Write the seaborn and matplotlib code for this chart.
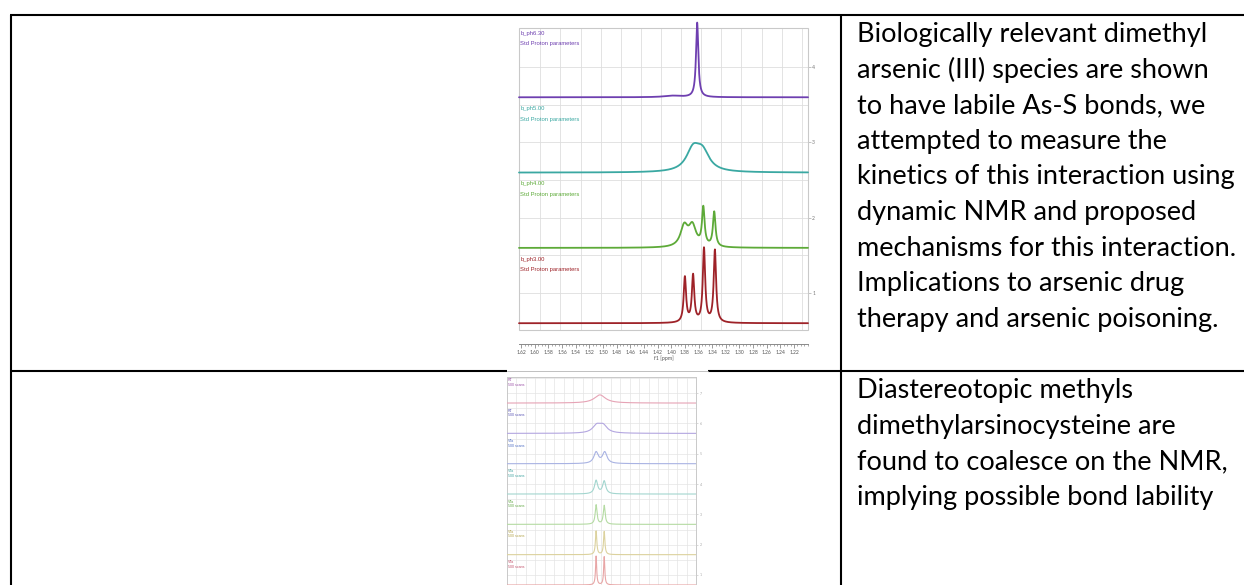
import numpy as np
import pandas as pd
import matplotlib
matplotlib.use("Agg")
import matplotlib.pyplot as plt
import matplotlib.transforms as mtransforms
from matplotlib.patches import Rectangle
from matplotlib.lines import Line2D
from matplotlib.ticker import MultipleLocator, FixedLocator, NullFormatter
import seaborn as sns

W, H = 1244, 585

# ---------------- data ----------------
text_row1 = ["Biologically relevant dimethyl",
             "arsenic (III) species are shown",
             "to have labile As-S bonds, we",
             "attempted to measure the",
             "kinetics of this interaction using",
             "dynamic NMR and proposed",
             "mechanisms for this interaction.",
             "Implications to arsenic drug",
             "therapy and arsenic poisoning."]
text_row2 = ["Diastereotopic methyls",
             "dimethylarsinocysteine are",
             "found to coalesce on the NMR,",
             "implying possible bond lability"]

# top spectrum stack (pH series)
ph_names = ["b_ph6.30", "b_ph5.00", "b_ph4.00", "b_ph3.00"]
ph_sub = "Std Proton parameters"
ph_colors = ["#6E3FB0", "#3AA8A2", "#5DAA38", "#9E2228"]
ph_offsets = [3.6, 2.6, 1.6, 0.6]
ph_centers = [[1.362, 1.398], [1.368, 1.354], [1.381, 1.369, 1.353, 1.337], [1.380, 1.368, 1.352, 1.336]]
ph_heights = [[0.99, 0.02], [0.28, 0.24], [0.27, 0.27, 0.50, 0.46], [0.60, 0.62, 0.98, 0.96]]
ph_widths = [[0.004, 0.03], [0.024, 0.024], [0.013, 0.013, 0.0045, 0.0045], [0.0042, 0.0042, 0.0042, 0.0042]]
ph_ticks = [1, 2, 3, 4]
ppm_ticks = [1.62, 1.60, 1.58, 1.56, 1.54, 1.52, 1.50, 1.48, 1.46, 1.44, 1.42,
             1.40, 1.38, 1.36, 1.34, 1.32, 1.30, 1.28, 1.26, 1.24, 1.22]

# bottom spectrum stack (variable temperature series)
vt_names = ["RT", "RT", "VTa", "VTa", "VTa", "VTa", "VTa"]
vt_sub = "500 scans"
vt_line_colors = ["#E6A3B5", "#B3A6E0", "#A9B3E3", "#A3D6CF", "#B5DBA3", "#DCD29E", "#E8A6A6"]
vt_text_colors = ["#9A4FA6", "#5A55B5", "#4C6CC4", "#3FA3A0", "#62A844", "#B3A44A", "#C2506A"]
vt_offsets = [6.67, 5.67, 4.67, 3.67, 2.67, 1.67, 0.67]
vt_centers = [[1.356], [1.368, 1.344], [1.370, 1.338], [1.370, 1.340], [1.370, 1.340], [1.370, 1.340], [1.370, 1.340]]
vt_heights = [[0.27], [0.24, 0.24], [0.37, 0.37], [0.44, 0.42], [0.64, 0.62], [0.78, 0.76], [0.95, 0.93]]
vt_widths = [[0.05], [0.036, 0.036], [0.02, 0.02], [0.014, 0.014], [0.008, 0.008], [0.006, 0.006], [0.005, 0.005]]
vt_ticks = [1, 2, 3, 4, 5, 6, 7]


def lorentz_stack(xs, names, offsets, centers, heights, widths):
    frames = []
    for i, (nm, off, cs, hs, ws) in enumerate(zip(names, offsets, centers, heights, widths)):
        y = np.full_like(xs, off)
        for c, h, w in zip(cs, hs, ws):
            y = y + h / (1.0 + ((xs - c) / (w / 2.0)) ** 2)
        frames.append(pd.DataFrame({"ppm": xs, "intensity": y, "trace": f"{i}_{nm}"}))
    return pd.concat(frames, ignore_index=True)


# ---------------- figure ----------------
sns.set_theme(style="white")
plt.rcParams['font.family'] = ['Lato', 'DejaVu Sans']
fig = plt.figure(figsize=(W / 100, H / 100), dpi=100)
fig.patch.set_facecolor("white")


def fx(x):
    return x / W


def fy(y):
    return 1 - y / H


def add_ax(x0, y0, x1, y1):
    return fig.add_axes([fx(x0), fy(y1), fx(x1) - fx(x0), (y1 - y0) / H])


# ---- table lines ----
lw_tab = 1.5
for (xa, ya, xb, yb) in [(10, 15, 1244, 15), (11, 15, 11, 585), (841, 15, 841, 585),
                         (11, 371, 507, 371), (708, 371, 1244, 371)]:
    fig.add_artist(Line2D([fx(xa), fx(xb)], [fy(ya), fy(yb)], color="black", lw=lw_tab,
                          solid_capstyle="butt"))
fig.add_artist(Line2D([fx(507), fx(708)], [fy(371), fy(371)], color="#b5b5b5", lw=0.6))

# ---- text in right column ----
tmp = fig.text(0, 0, "kinetics of this interaction using", fontsize=20)
fig.canvas.draw()
bb = tmp.get_window_extent(fig.canvas.get_renderer())
fs = 20 * 379.0 / bb.width
tmp.remove()

for i, s in enumerate(text_row1):
    fig.text(fx(857), fy(42 + i * 35.6), s, fontsize=fs, color="black", va="baseline", ha="left")
for i, s in enumerate(text_row2):
    fig.text(fx(857), fy(398 + i * 35.6), s, fontsize=fs, color="black", va="baseline", ha="left")

grid_c = "#dedede"
frame_c = "#c9c9c9"

# ---- top spectrum ----
ax1 = add_ax(519, 28, 808, 330)
xs1 = np.linspace(1.6232, 1.1995, 2500)
df1 = lorentz_stack(xs1, ph_names, ph_offsets, ph_centers, ph_heights, ph_widths)
pal1 = {f"{i}_{n}": c for i, (n, c) in enumerate(zip(ph_names, ph_colors))}
sns.lineplot(data=df1, x="ppm", y="intensity", hue="trace", palette=pal1, estimator=None,
             sort=False, legend=False, lw=1.3, ax=ax1, zorder=3)
for ln in ax1.lines:
    ln.set_clip_on(False)
ax1.set_xlim(1.6232, 1.1995)
ax1.set_ylim(0.51, 4.52)
for s in ["top", "left", "right"]:
    ax1.spines[s].set_visible(False)
ax1.add_patch(Rectangle((0, 0), 1, 1, transform=ax1.transAxes, fill=False, ec=frame_c, lw=0.8,
                        clip_on=False, zorder=1))
ax1.spines["bottom"].set_position(("outward", 10))
ax1.spines["bottom"].set_color("#8a8a8a")
ax1.spines["bottom"].set_linewidth(0.7)
ax1.xaxis.set_major_locator(FixedLocator(ppm_ticks))
ax1.set_xticklabels([f"{t:.2f}" for t in ppm_ticks])
ax1.xaxis.set_minor_locator(MultipleLocator(0.005))
ax1.tick_params(axis="x", which="major", bottom=True, length=3, width=0.6, color="#8a8a8a",
                labelsize=3.6, labelcolor="#555555", pad=1.5)
ax1.tick_params(axis="x", which="minor", bottom=True, length=1.6, width=0.5, color="#8a8a8a")
ax1.set_xlabel("f1 [ppm]", fontsize=3.8, color="#555555", labelpad=0)
ax1.yaxis.tick_right()
ax1.yaxis.set_major_locator(FixedLocator(ph_ticks))
ax1.yaxis.set_minor_locator(FixedLocator([1.5, 2.5, 3.5]))
ax1.yaxis.set_minor_formatter(NullFormatter())
ax1.tick_params(axis="y", which="major", right=True, length=2, width=0.5, color="#aaaaaa",
                labelsize=3.6, labelcolor="#777777", pad=1)
ax1.tick_params(axis="y", which="minor", right=False, length=0)
ax1.set_ylabel("")
ax1.grid(axis="y", which="both", color=grid_c, lw=0.6, zorder=0)
ax1.vlines(np.arange(1.592, 1.20, -0.0295), 0, 1, transform=ax1.get_xaxis_transform(),
           color=grid_c, lw=0.6, zorder=0)
tr1 = mtransforms.blended_transform_factory(ax1.transAxes, ax1.transData)
for k, nm, c in zip([4, 3, 2, 1], ph_names, ph_colors):
    ax1.text(0.004, k + 0.45, nm, transform=tr1, fontsize=4.2, color=c, va="center",
             family=["Liberation Sans", "DejaVu Sans"])
    ax1.text(0.004, k + 0.31, ph_sub, transform=tr1, fontsize=4.2, color=c, va="center",
             family=["Liberation Sans", "DejaVu Sans"])

# ---- bottom spectrum ----
ax2 = add_ax(507, 377, 696, 620)
xs2 = np.linspace(1.70, 1.00, 1800)
df2 = lorentz_stack(xs2, vt_names, vt_offsets, vt_centers, vt_heights, vt_widths)
pal2 = {f"{i}_{n}": c for i, (n, c) in enumerate(zip(vt_names, vt_line_colors))}
sns.lineplot(data=df2, x="ppm", y="intensity", hue="trace", palette=pal2, estimator=None,
             sort=False, legend=False, lw=0.8, ax=ax2, zorder=3)
ax2.set_xlim(1.70, 1.00)
ax2.set_ylim(-0.485, 7.53)
for s in ax2.spines.values():
    s.set_color(frame_c)
    s.set_linewidth(0.7)
ax2.set_xlabel("")
ax2.set_ylabel("")
ax2.set_xticks([])
ax2.yaxis.tick_right()
ax2.yaxis.set_major_locator(FixedLocator(vt_ticks))
ax2.yaxis.set_minor_locator(MultipleLocator(0.5))
ax2.yaxis.set_minor_formatter(NullFormatter())
ax2.tick_params(axis="y", which="major", right=True, length=1.5, width=0.4, color="#bbbbbb",
                labelsize=2.6, labelcolor="#aaaaaa", pad=1)
ax2.tick_params(axis="y", which="minor", right=False, length=0)
ax2.grid(axis="y", which="both", color="#e4e4e4", lw=0.5, zorder=0)
ax2.vlines(np.arange(1.70, 1.00, -0.035), 0, 1, transform=ax2.get_xaxis_transform(),
           color="#e4e4e4", lw=0.5, zorder=0)
tr2 = mtransforms.blended_transform_factory(ax2.transAxes, ax2.transData)
for k, nm, c in zip([7, 6, 5, 4, 3, 2, 1], vt_names, vt_text_colors):
    ax2.text(0.006, k + 0.42, nm, transform=tr2, fontsize=2.6, color=c, va="center",
             family=["Liberation Sans", "DejaVu Sans"])
    ax2.text(0.006, k + 0.27, vt_sub, transform=tr2, fontsize=2.6, color=c, va="center",
             family=["Liberation Sans", "DejaVu Sans"])

fig.savefig("out.png", dpi=100, facecolor="white")
